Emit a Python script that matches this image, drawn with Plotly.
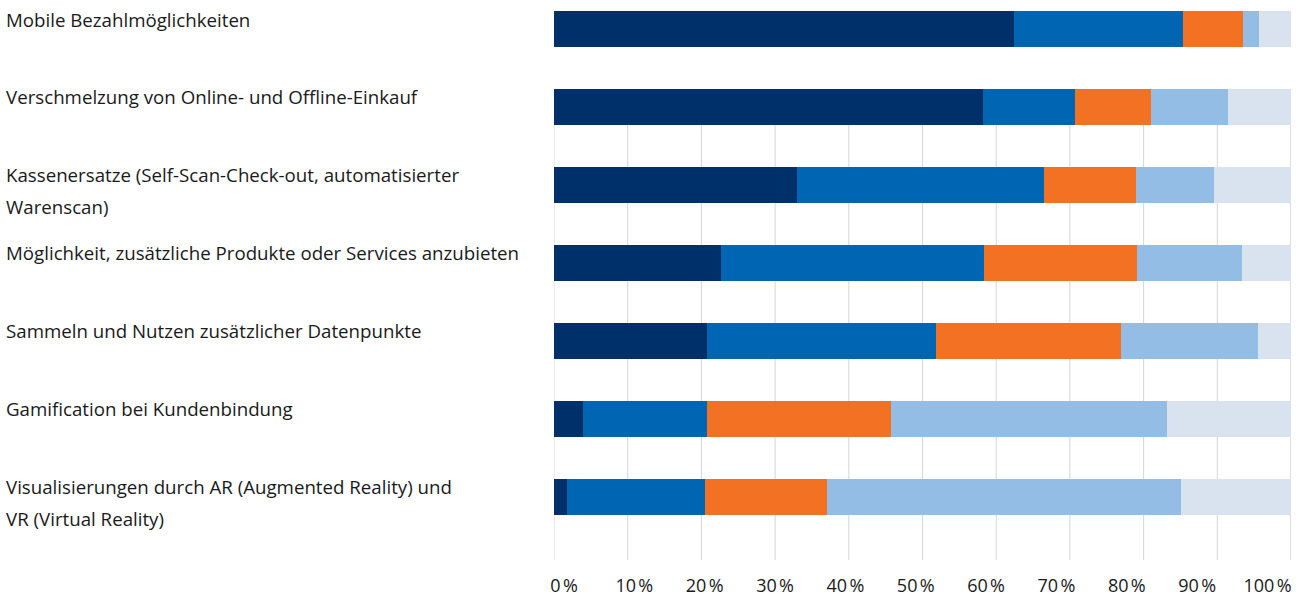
import plotly.graph_objects as go

categories = [
    "Mobile Bezahlmöglichkeiten",
    "Verschmelzung von Online- und Offline-Einkauf",
    "Kassenersatze (Self-Scan-Check-out, automatisierter<br>Warenscan)",
    "Möglichkeit, zusätzliche Produkte oder Services anzubieten",
    "Sammeln und Nutzen zusätzlicher Datenpunkte",
    "Gamification bei Kundenbindung",
    "Visualisierungen durch AR (Augmented Reality) und<br>VR (Virtual Reality)",
]

series_names = ["Stufe 1", "Stufe 2", "Stufe 3", "Stufe 4", "Stufe 5"]
s1 = [62.4, 58.2, 33.0, 22.7, 20.7, 3.9, 1.8]
s2 = [22.9, 12.5, 33.5, 35.6, 31.1, 16.8, 18.7]
s3 = [8.2, 10.3, 12.5, 20.8, 25.2, 25.0, 16.6]
s4 = [2.2, 10.4, 10.5, 14.3, 18.5, 37.5, 48.0]
s5 = [4.3, 8.6, 10.5, 6.6, 4.5, 16.8, 14.9]
series_values = [s1, s2, s3, s4, s5]
colors = ["#00306A", "#0066B3", "#F37122", "#94BDE5", "#D8E3EF"]

tick_vals = [0, 10, 20, 30, 40, 50, 60, 70, 80, 90, 100]
tick_text = [f"{v}\u202f%" for v in tick_vals]

W, H = 1307, 596
left, right_px, top, bottom_px = 554, 1291, 0, 560
FONT = "Open Sans"

idx = list(range(len(categories)))

fig = go.Figure()
for name, vals, col in zip(series_names, series_values, colors):
    fig.add_trace(go.Bar(
        y=idx, x=vals, name=name, orientation="h",
        marker=dict(color=col, line=dict(width=0)),
        width=0.46, showlegend=False, hoverinfo="x+name",
    ))

# invisible helper trace so the tick-label axis gets drawn
fig.add_trace(go.Scatter(
    x=[tick_vals[0], tick_vals[-1]], y=[idx[0], idx[0]], xaxis="x2", yaxis="y",
    mode="markers", marker=dict(opacity=0), showlegend=False, hoverinfo="skip",
))

# gridlines (only visible below the second bar in the original)
shapes = []
for v in tick_vals:
    shapes.append(dict(
        type="line", xref="x", yref="y", x0=v, x1=v, y0=1, y1=6.81,
        line=dict(color="#BFBFBF" if v == 100 else "#D6D6D6", width=1),
        layer="below",
    ))

# left-aligned category labels
annotations = []
plot_w = right_px - left
for i, lab in enumerate(categories):
    for j, line in enumerate(lab.split("<br>")):
        annotations.append(dict(
            xref="paper", yref="y", x=-(left - 7) / plot_w, y=i,
            xanchor="left", yanchor="middle", text=line, showarrow=False,
            xshift=-3, yshift=10 - 32 * j,
            font=dict(family=FONT, size=18.7, color="#1A1A1A"),
        ))

fig.update_layout(
    width=W, height=H,
    margin=dict(l=left, r=W - right_px, t=top, b=H - bottom_px, pad=0, autoexpand=False),
    barmode="stack",
    plot_bgcolor="rgba(0,0,0,0)", paper_bgcolor="white",
    font=dict(family=FONT, size=18, color="#1A1A1A"),
    xaxis=dict(range=[0, 100], showgrid=False, zeroline=False, automargin=False,
               showticklabels=False, showline=False, fixedrange=True),
    xaxis2=dict(range=[0, 100], domain=[(564 - left) / plot_w, (1267.5 - left) / plot_w],
                anchor="free", position=0, tickvals=tick_vals, ticktext=tick_text,
                showgrid=False, zeroline=False, showline=False, ticks="",
                automargin=False, ticklabelstandoff=13, fixedrange=True,
                tickfont=dict(family=FONT, size=18, color="#1A1A1A")),
    yaxis=dict(range=[6.81, -0.372], autorange=False, showticklabels=False, automargin=False,
               showgrid=False, zeroline=False, showline=False, fixedrange=True),
    shapes=shapes,
    annotations=annotations,
)

fig.write_html("out.html", config={"displayModeBar": False},
               post_script="document.body.style.margin='0';")
